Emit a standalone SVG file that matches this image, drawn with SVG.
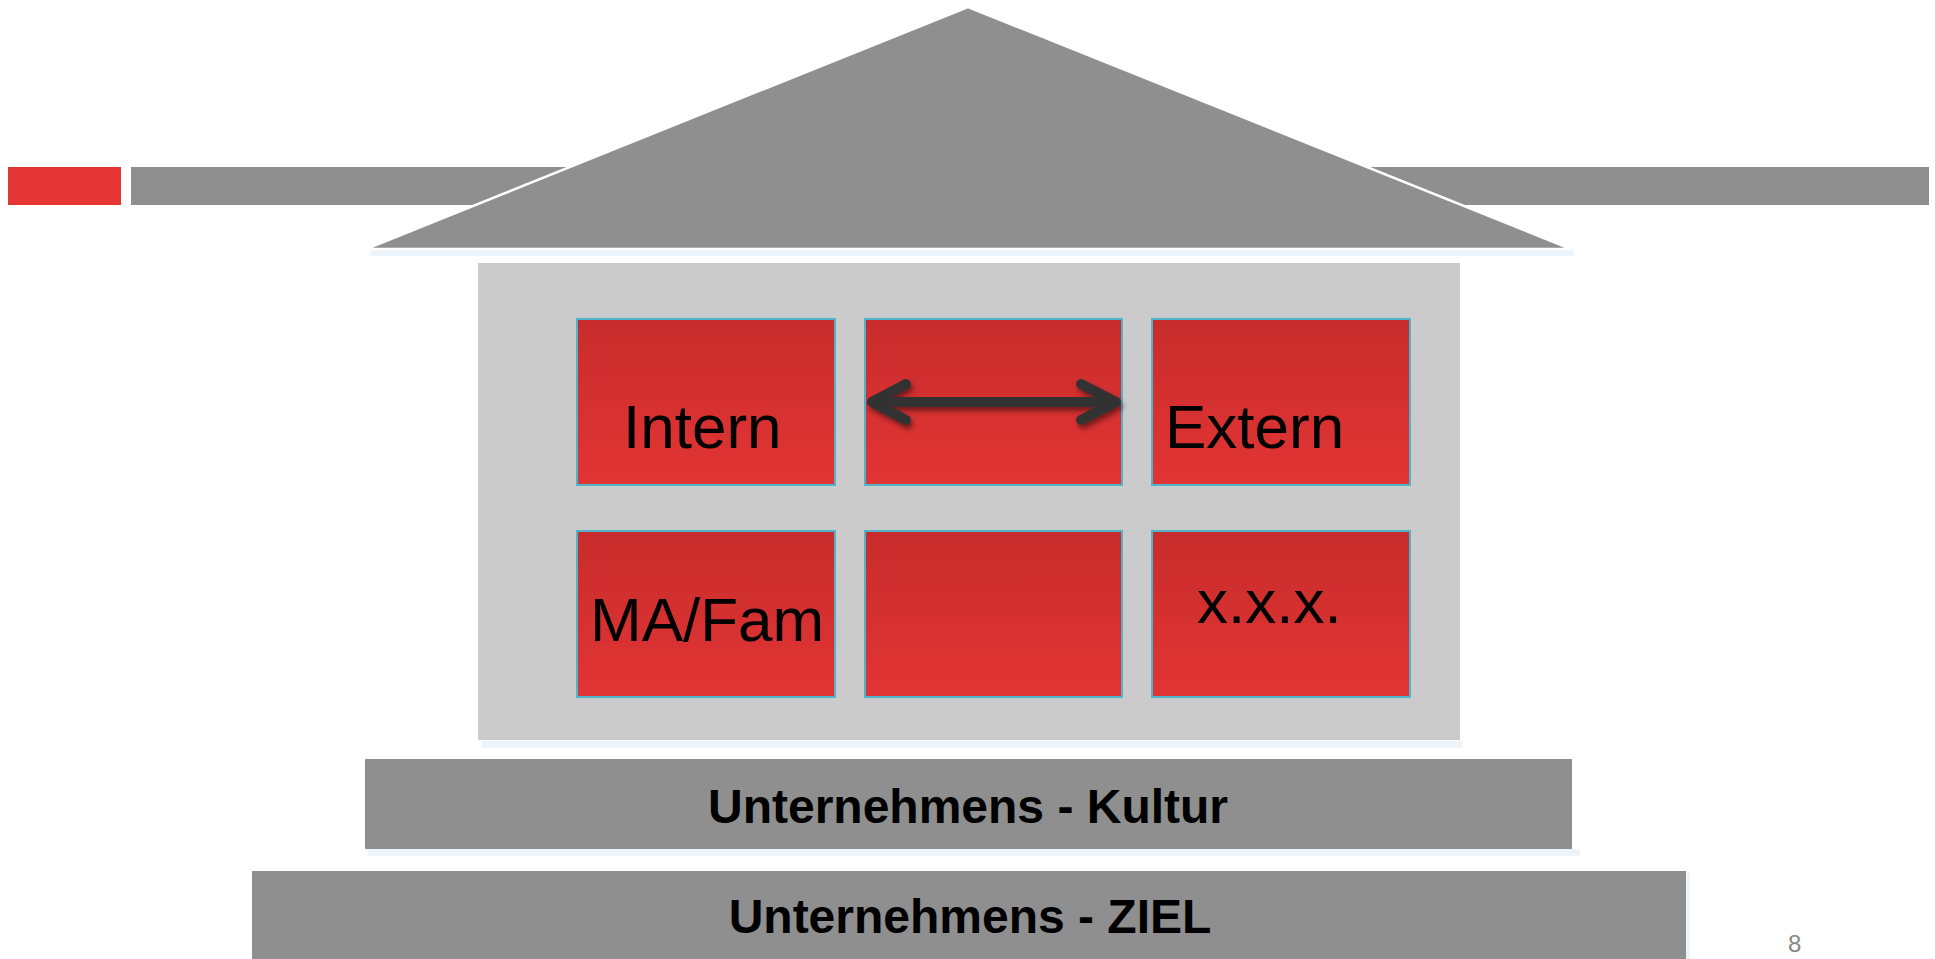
<svg xmlns="http://www.w3.org/2000/svg" width="1935" height="959" viewBox="0 0 1935 959">
<defs>
<linearGradient id="win" x1="0" y1="0" x2="0" y2="1">
<stop offset="0" stop-color="#c82c2c"/>
<stop offset="1" stop-color="#e23434"/>
</linearGradient>
<filter id="sh" x="-10%" y="-50%" width="120%" height="200%">
<feDropShadow dx="2" dy="4" stdDeviation="2.5" flood-color="#000" flood-opacity="0.45"/>
</filter>
<style>
.gray{fill:#8f8f8f}
.refl{fill:#eef5fa}
.win{fill:url(#win);stroke:#4fb3cc;stroke-width:2}
.big{font-family:"Liberation Sans",Arial,sans-serif;font-size:62px;fill:#000}
.bar{font-family:"Liberation Sans",Arial,sans-serif;font-size:48px;font-weight:bold;fill:#000;text-anchor:middle}
.arrow{fill:none;stroke:#333;stroke-width:10;stroke-linecap:round;stroke-linejoin:round}
</style>
</defs>
<rect width="1935" height="959" fill="#fff"/>
<g id="header">
<rect x="8" y="167" width="113" height="38" fill="#e53535"/>
<rect class="gray" x="131" y="167" width="1798" height="38"/>
</g>
<g id="roof">
<rect class="refl" x="370" y="250" width="1204" height="6"/>
<polygon class="gray" points="968,7 366,249 1571,249" stroke="#fff" stroke-width="2.5" stroke-linejoin="round"/>
</g>
<g id="body">
<rect class="refl" x="481" y="741" width="982" height="7"/>
<rect x="478" y="263" width="982" height="477" fill="#cbcbcb"/>
</g>
<g id="win-intern">
<rect class="win" x="577" y="319" width="258" height="166"/>
<text class="big" x="623" y="448">Intern</text>
</g>
<g id="win-middle-top">
<rect class="win" x="865" y="319" width="257" height="166"/>
</g>
<g id="win-extern">
<rect class="win" x="1152" y="319" width="258" height="166"/>
<text class="big" x="1165" y="448">Extern</text>
</g>
<g id="win-mafam">
<rect class="win" x="577" y="531" width="258" height="166"/>
<text class="big" x="590" y="641">MA/Fam</text>
</g>
<g id="win-middle-bottom">
<rect class="win" x="865" y="531" width="257" height="166"/>
</g>
<g id="win-xxx">
<rect class="win" x="1152" y="531" width="258" height="166"/>
<text class="big" x="1197" y="623">x.x.x.</text>
</g>
<g id="connectors">
<g filter="url(#sh)">
<path class="arrow" d="M874,402 H1114"/>
<path class="arrow" d="M906,384 L872,402 L906,420"/>
<path class="arrow" d="M1081,384 L1116,402 L1081,420"/>
</g>
</g>
<g id="kultur">
<rect class="refl" x="368" y="849" width="1212" height="7"/>
<rect class="gray" x="365" y="759" width="1207" height="90"/>
<text class="bar" x="968" y="823">Unternehmens - Kultur</text>
</g>
<g id="ziel">
<rect x="1686" y="873" width="4" height="86" fill="#eef5fa"/>
<rect class="gray" x="252" y="871" width="1434" height="88"/>
<text class="bar" x="970" y="933">Unternehmens - ZIEL</text>
</g>
<text x="1788" y="952" font-family="'Liberation Sans',Arial,sans-serif" font-size="24" fill="#888">8</text>
</svg>
